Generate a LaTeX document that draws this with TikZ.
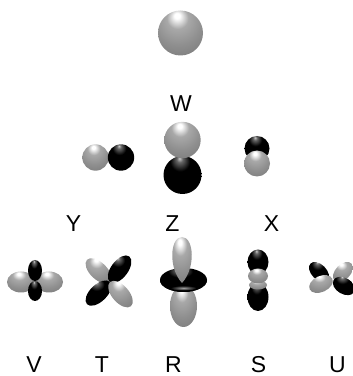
\documentclass[tikz,border=0pt]{standalone}
\usepackage{fontspec}
\setmainfont{Liberation Sans}

% Grey tones for the lobe shadings
\definecolor{gA}{gray}{0.66}
\definecolor{gB}{gray}{0.56}
\definecolor{gC}{gray}{0.45}
\definecolor{gD}{gray}{0.28}
\definecolor{kA}{gray}{0.80}
\definecolor{kB}{gray}{0.40}

% Glossy grey and black lobes, highlight above the centre
\pgfdeclareradialshading{grayball}{\pgfpoint{-4bp}{20bp}}{%
  color(0bp)=(white); color(3bp)=(white); color(12bp)=(gA);
  color(26bp)=(gB); color(46bp)=(gC); color(70bp)=(gD)}
\pgfdeclareradialshading{blackball}{\pgfpoint{-4bp}{22bp}}{%
  color(0bp)=(kA); color(4bp)=(kB); color(13bp)=(black); color(70bp)=(black)}

\begin{document}
\begin{tikzpicture}[x=1pt,y=1pt,
  gball/.style={shading=grayball},
  kball/.style={shading=blackball},
  lab/.style={anchor=base, inner sep=0pt, font=\fontsize{23}{23}\selectfont}]
\useasboundingbox (0,0) rectangle (353,376);

% ---- s orbital ----
\shade[gball] (180.5,343) circle (22.5);
\node[lab] (W) at (181,265) {W};

% ---- p orbitals ----
% p_y
\shade[gball] (95.5,218.5) circle (13.2);
\shade[kball] (121,218.5) circle (13.2);
% p_z
\shade[kball] (182.5,201) circle (19);
\shade[gball] (182.5,236) circle (18.2);
% p_x
\shade[kball] (257,227.5) circle (12.5);
\shade[gball] (257,212.5) circle (13);

\node[lab] (Y) at (73.5,145) {Y};
\node[lab] (Z) at (172.5,145) {Z};
\node[lab] (X) at (271.5,145) {X};

% ---- d orbitals ----
% V: four lobes along the axes
\shade[gball] (21,94) ellipse (14 and 10.5);
\shade[gball] (49,94) ellipse (14 and 10.5);
\shade[kball] (35,105.5) ellipse (7 and 10.5);
\shade[kball] (35,85) ellipse (7 and 10);

% T: four lobes between the axes
\shade[gball, rotate around={-44:(98.5,105.1)}] (98.5,105.1) ellipse (16 and 8.5);
\shade[kball, rotate around={53:(119.6,106.8)}] (119.6,106.8) ellipse (16 and 8.5);
\shade[kball, rotate around={44:(98.5,82.9)}] (98.5,82.9) ellipse (16 and 8.5);
\shade[gball, rotate around={-49:(120.5,81.9)}] (120.5,81.9) ellipse (16 and 8.5);

% R: two lobes with a ring
\shade[gball] (183.5,70) ellipse (13.5 and 21);
\shade[kball] (183.5,96) ellipse (23.5 and 12);
\shade[gball] (182,93) .. controls (168,108) and (170,139) .. (182,139)
  .. controls (194,139) and (196,108) .. (182,93) -- cycle;
\fill[black] (160,96) arc[start angle=180, end angle=360, x radius=23.5, y radius=12]
  -- (197.5,97) arc[start angle=0, end angle=-180, x radius=14, y radius=5] -- cycle;
\shade[inner color=gray!75, outer color=black] (183.5,88) ellipse (13 and 2.5);

% S: stacked lobes
\shade[kball] (258,114) ellipse (10.5 and 12.5);
\shade[kball] (258,79) ellipse (10.5 and 14);
\shade[gball] (258,91) ellipse (9 and 4.5);
\shade[gball] (258,100) ellipse (10 and 7.5);

% U: tilted four-lobe orbital
\shade[kball, rotate around={-45:(319,104)}] (319,104) ellipse (12 and 7.5);
\shade[gball, rotate around={45:(343,104)}] (343,104) ellipse (12 and 7.5);
\shade[gball, rotate around={25:(321,92)}] (321,92) ellipse (12.5 and 8);
\shade[kball, rotate around={-30:(344,90)}] (344,90) ellipse (12 and 8);

\node[lab] (V) at (34,4) {V};
\node[lab] (T) at (102,4) {T};
\node[lab] (R) at (173.5,4) {R};
\node[lab] (S) at (258.5,4) {S};
\node[lab] (U) at (337.5,4) {U};
\end{tikzpicture}
\end{document}
